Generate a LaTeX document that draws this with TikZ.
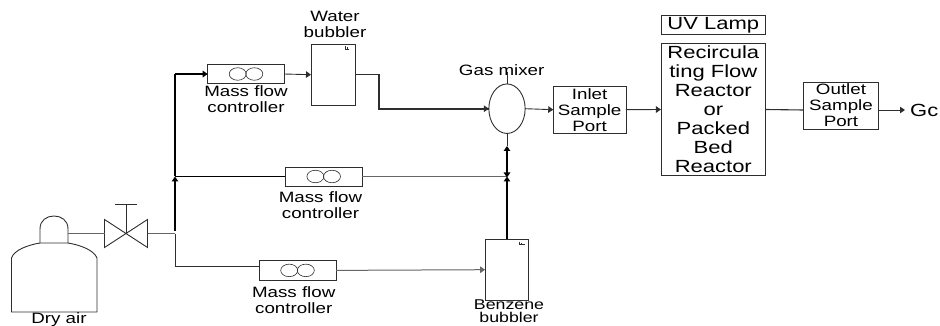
\documentclass[tikz,border=0pt]{standalone}
\usepackage{fontspec}
\usetikzlibrary{arrows.meta,shapes.geometric}
\setmainfont[FakeStretch=1.25]{Liberation Sans}
\definecolor{ln}{gray}{0.18}
\definecolor{thinln}{gray}{0.4}
\tikzset{
  box/.style={draw=ln,line width=0.9pt,fill=none,inner sep=0pt,outer sep=0pt},
  lab/.style={inner sep=0pt,align=center,font=\fontsize{15}{16}\selectfont,text=black},
  biglab/.style={inner sep=0pt,align=center,font=\fontsize{17.6}{19}\selectfont,text=black},
  pipe/.style={draw=ln,line width=0.9pt},
  greypipe/.style={draw=thinln,line width=1pt},
  trunk/.style={draw=black,line width=1.7pt},
  tip/.style={-{Triangle[length=5pt,width=6.5pt]}},
  mfcwheel/.style={draw=ln,line width=0.6pt,ellipse,minimum width=17pt,minimum height=12.5pt,inner sep=0pt}
}
\begin{document}
\begin{tikzpicture}[x=1pt,y=-1pt]
\useasboundingbox (0,0) rectangle (940,326);
% tank
\draw[pipe] (11.5,312) -- (11.5,258) .. controls (14,250) and (28,245) .. (40,243) -- (68,243) .. controls (80,245) and (94,250) .. (97,258) -- (97,312) -- cycle;
\draw[pipe] (40,243) -- (40,229) .. controls (40,220) and (47,216) .. (54,216) .. controls (61,216) and (68,220) .. (68,229) -- (68,243);
\coordinate (tankout) at (68,233.5);
\node[lab] (dryair) at (59,319.5) {Dry air};
% valve
\coordinate (vc) at (126,233.5);
\coordinate (vl) at (104.5,233.5);
\coordinate (vr) at (147.5,233.5);
\coordinate (vtop) at (126,204.5);
\draw[pipe] (104.5,219.5) -- (147.5,247.5) -- (147.5,219.5) -- (104.5,247.5) -- cycle;
\draw[pipe] (vc) -- (vtop);
\draw[pipe] (115,204.5) -- (137,204.5);
\draw[greypipe] (tankout) -- (vl);
% boxes
\node[box,minimum width=76.6pt,minimum height=18.6pt] (mfcA) at (246,74) {};
\node[box,minimum width=76.6pt,minimum height=19pt] (mfcB) at (323.7,176.5) {};
\node[box,minimum width=77pt,minimum height=19.3pt] (mfcC) at (297.5,270.4) {};
\foreach \m in {mfcA,mfcB,mfcC}{
  \node[mfcwheel] at ([xshift=-8.3pt]\m.center) {};
  \node[mfcwheel] at ([xshift=8.3pt]\m.center) {};
}
\node[lab] (tA) at (246,99.5) {Mass flow\\controller};
\node[lab] (tB) at (320.5,205) {Mass flow\\controller};
\node[lab] (tC) at (293.7,299.7) {Mass flow\\controller};
\node[box,minimum width=44pt,minimum height=60.7pt] (water) at (333,74.7) {};
\node[box,minimum width=43.7pt,minimum height=60.7pt] (benz) at (507,269.7) {};
\draw[draw=ln,line width=0.6pt] (345,46) -- (345,49) (345,49) -- (349,49) (347,47) -- (347,49);
\draw[draw=ln,line width=0.6pt] (519,241.5) -- (519,244.5) (519,244.5) -- (525,244.5) (521.5,242.5) -- (521.5,244.5);
\node[lab] (tW) at (335,24) {Water\\bubbler};
\node[lab,font=\fontsize{14.2}{13.2}\selectfont,anchor=south] (tZ) at (509,322.8) {Benzene\\bubbler};
\node[box,ellipse,minimum width=36.3pt,minimum height=49.5pt] (mix) at (507,108.7) {};
\node[lab] (tM) at (501.7,69.7) {Gas mixer};
\node[box,minimum width=72.7pt,minimum height=47.3pt] (inlet) at (589.6,109.7) {};
\node[lab] (tI) at (589.6,109.7) {Inlet\\Sample\\Port};
\node[box,minimum width=104.7pt,minimum height=132.4pt] (reactor) at (713.3,109.5) {};
\node[biglab] (tR) at (713.3,109) {Recircula\\ting Flow\\Reactor\\or\\Packed\\Bed\\Reactor};
\node[box,minimum width=104.7pt,minimum height=19.3pt] (uv) at (713.3,25.3) {};
\node[biglab] (tU) at (713.3,25.3) {UV Lamp};
\node[box,minimum width=75.4pt,minimum height=47pt] (outlet) at (841,105.5) {};
\node[lab] (tO) at (841,105.5) {Outlet\\Sample\\Port};
\node[biglab,anchor=west] (gc) at (910,110) {Gc};
% junctions
\coordinate (j0) at (175,233.5);
\coordinate (j0t) at (175,231);
\coordinate (j1) at (175,176.5);
\coordinate (j2) at (175,74);
\coordinate (jm) at (507,176.5);
\coordinate (jma) at (507,152);
\coordinate (jmb) at (507,146);
\coordinate (jc) at (175,266.7);
\coordinate (mcin) at (259,266.7);
\coordinate (wout) at (379,74.7);
\coordinate (wdn) at (379,109);
\coordinate (mixin) at (489,109);
\coordinate (mixtop) at (507,72);
\coordinate (gcin) at (905,110);
\coordinate (outin) at (803.3,110);
% connectors
\draw[greypipe] (vr) -- (j0);
\draw[pipe] (j0) -- (jc) -- (mcin);
\draw[trunk,tip] (j0t) -- (j1);
\draw[trunk] (j1) -- (j2);
\draw[trunk,line width=1.4pt,tip] (j2) -- (mfcA.west);
\draw[trunk,line width=1.2pt] (j1) -- (mfcB.west);
\draw[greypipe] (mfcB.east) -- (jm);
\draw[pipe,tip] (mfcA.east) -- (water.west);
\draw[pipe,line width=1.3pt] (water.east) -- (wout) -- (wdn) -- (mixin);
\draw[pipe,tip,line width=1.1pt] (wdn) -- (mix.west);
\draw[pipe,tip] (mix.east) -- (inlet.west);
\draw[pipe,tip] (inlet.east) -- (reactor.west);
\draw[pipe,line width=1.1pt] (reactor.east) -- (outin);
\draw[pipe,tip] (outlet.east |- gcin) -- (gcin);
\draw[greypipe,tip] (mfcC.east) -- (benz.west);
\draw[trunk,tip] (benz.north) -- (jm);
\draw[trunk,tip] (jma) -- ([yshift=-1pt]jm);
\draw[trunk,tip] (jma) -- (jmb);
\draw[pipe] (jmb) -- (mix.south);
\draw[pipe] (mix.north) -- (mixtop);
\end{tikzpicture}
\end{document}
